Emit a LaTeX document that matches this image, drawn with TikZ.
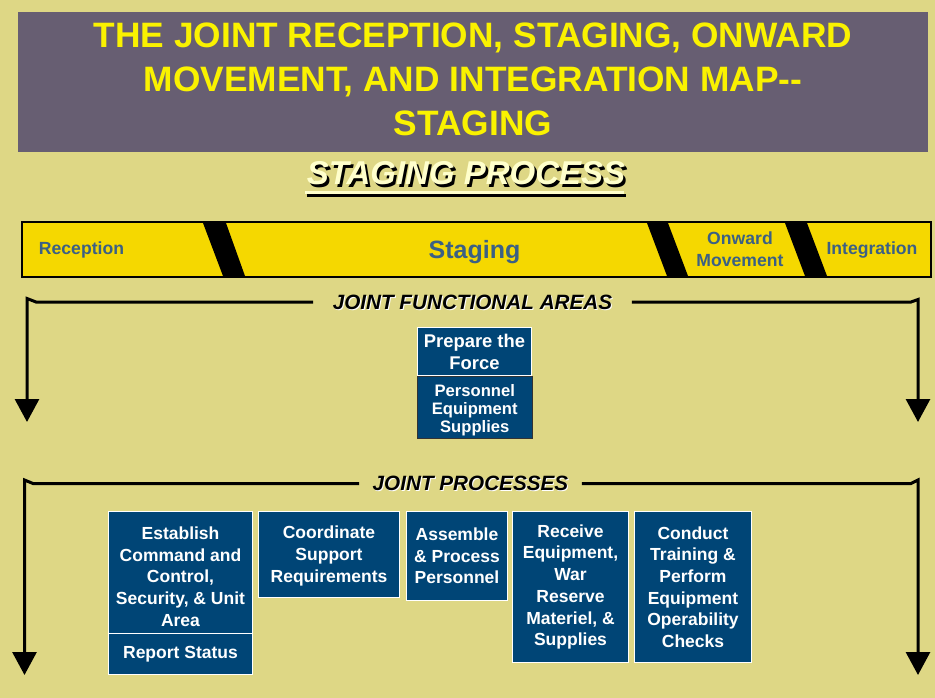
\documentclass[tikz,border=0pt]{standalone}
\usepackage{fontspec}
\setmainfont{Liberation Sans}
\usetikzlibrary{arrows.meta}

\definecolor{bgkhaki}{RGB}{222,215,133}
\definecolor{titleband}{RGB}{103,94,114}
\definecolor{titleyellow}{RGB}{250,242,0}
\definecolor{baryellow}{RGB}{245,216,0}
\definecolor{barblue}{RGB}{59,96,133}
\definecolor{boxblue}{RGB}{0,69,118}
\definecolor{headcream}{RGB}{255,255,204}

\tikzset{
  titleline/.style={anchor=base, text=titleyellow, inner sep=0,
    font=\fontsize{35.3}{40}\selectfont\bfseries},
  barlabel/.style={text=barblue, align=center, inner sep=0,
    font=\fontsize{17.6}{22}\selectfont\bfseries},
  stripe/.style={fill=black},
  bracketline/.style={line width=3pt, draw=black, line join=miter},
  arrowend/.style={-{Triangle[width=24pt,length=23pt]}},
  sectionhead/.style={inner ysep=0,
    font=\fontsize{20.7}{24}\selectfont\bfseries\itshape},
  procbox/.style={draw=white, line width=1pt, fill=boxblue, text=white,
    align=center, inner sep=0, anchor=north west,
    font=\fontsize{17.5}{21.7}\selectfont\bfseries},
}

\begin{document}
\begin{tikzpicture}[x=1pt,y=-1pt]
  % page and background
  \useasboundingbox (0,0) rectangle (935,698);
  \fill[bgkhaki] (0,0) rectangle (935,698);

  % title band
  \fill[titleband] (18,12) rectangle (928,152);
  \node[titleline] (title1) at (473,47.5) {THE JOINT RECEPTION, STAGING, ONWARD};
  \node[titleline] (title2) at (473,92) {MOVEMENT, AND INTEGRATION MAP-{}-};
  \node[titleline] (title3) at (473,136) {STAGING};

  % heading with drop shadow and double underline
  \node[anchor=base, inner sep=0, text=black,
        font=\fontsize{33}{36}\selectfont\bfseries\itshape]
        (stagingShadow) at (468.5,187.5) {STAGING PROCESS};
  \node[anchor=base, inner sep=0, text=headcream,
        font=\fontsize{33}{36}\selectfont\bfseries\itshape]
        (staging) at (466,185) {STAGING PROCESS};
  \draw[line width=2.5pt, black] (306.5,195.5) -- (625.5,195.5);
  \draw[line width=2.5pt, headcream] (304.5,192.5) -- (623.5,192.5);

  % phase bar
  \node[draw=none, fill=baryellow, minimum width=909, minimum height=55,
        inner sep=0] (bar) at (476.5,249.5) {};
  \fill[stripe] (203,223) -- (226,223) -- (245,276) -- (223,276) -- cycle;
  \fill[stripe] (647,223) -- (668,223) -- (688,276) -- (667,276) -- cycle;
  \fill[stripe] (785,223) -- (807,223) -- (827,276) -- (805,276) -- cycle;
  \draw[line width=2pt] (bar.north west) rectangle (bar.south east);

  \node[barlabel, anchor=base] (reception) at (81.5,254) {Reception};
  \node[barlabel, anchor=base, font=\fontsize{25}{28}\selectfont\bfseries]
        (stagingphase) at (474.5,258.5) {Staging};
  \node[barlabel] (onward) at (740,249.5) {Onward\\Movement};
  \node[barlabel, anchor=base] (integration) at (872,254) {Integration};

  % joint functional areas bracket
  \node[sectionhead, text=white, inner xsep=19.5pt] (jfaShadow) at (473.5,303.2)
        {JOINT FUNCTIONAL AREAS};
  \node[sectionhead, text=black, inner xsep=19.5pt] (jfa) at (472.5,302)
        {JOINT FUNCTIONAL AREAS};
  \draw[bracketline, arrowend] (jfa.west) -- (36,302) -- (27,298.5) -- (27,422);
  \draw[bracketline, arrowend] (jfa.east) -- (911,302) -- (918,299.5) -- (918,422);

  \node[procbox, minimum width=114, minimum height=48,
        font=\fontsize{18.4}{22}\selectfont\bfseries]
        (prepare) at (417,327) {Prepare the\\Force};
  \node[procbox, draw=black!80, minimum width=114.5, minimum height=62.5,
        font=\fontsize{16.6}{18.3}\selectfont\bfseries]
        (personnel) at (417,375.5) {\rule{0pt}{18pt}Personnel\\Equipment\\Supplies};

  % joint processes bracket
  \node[sectionhead, text=white, inner xsep=13.5pt] (jpShadow) at (471.5,484.7)
        {JOINT PROCESSES};
  \node[sectionhead, text=black, inner xsep=13.5pt] (jp) at (470.5,483.5)
        {JOINT PROCESSES};
  \draw[bracketline, arrowend] (jp.west) -- (33,483.5) -- (24.5,480) -- (24.5,675);
  \draw[bracketline, arrowend] (jp.east) -- (911,483.5) -- (918,480) -- (918,675);

  \node[procbox, minimum width=144, minimum height=122] (establish) at (108,511)
        {\rule{0pt}{21pt}Establish\\Command and\\Control,\\Security, \& Unit\\Area};
  \node[procbox, minimum width=144, minimum height=41] (report) at (108,633)
        {Report Status};
  \node[procbox, minimum width=141, minimum height=86] (coordinate) at (258,511)
        {\rule{0pt}{16pt}Coordinate\\Support\\Requirements};
  \node[procbox, minimum width=101, minimum height=89] (assemble) at (406,511)
        {Assemble\\\& Process\\Personnel};
  \node[procbox, minimum width=116, minimum height=151] (receive) at (512,511)
        {Receive\\Equipment,\\War\\Reserve\\Materiel, \&\\Supplies};
  \node[procbox, minimum width=117, minimum height=151] (conduct) at (634,511)
        {Conduct\\Training \&\\Perform\\Equipment\\Operability\\Checks};
\end{tikzpicture}
\end{document}
